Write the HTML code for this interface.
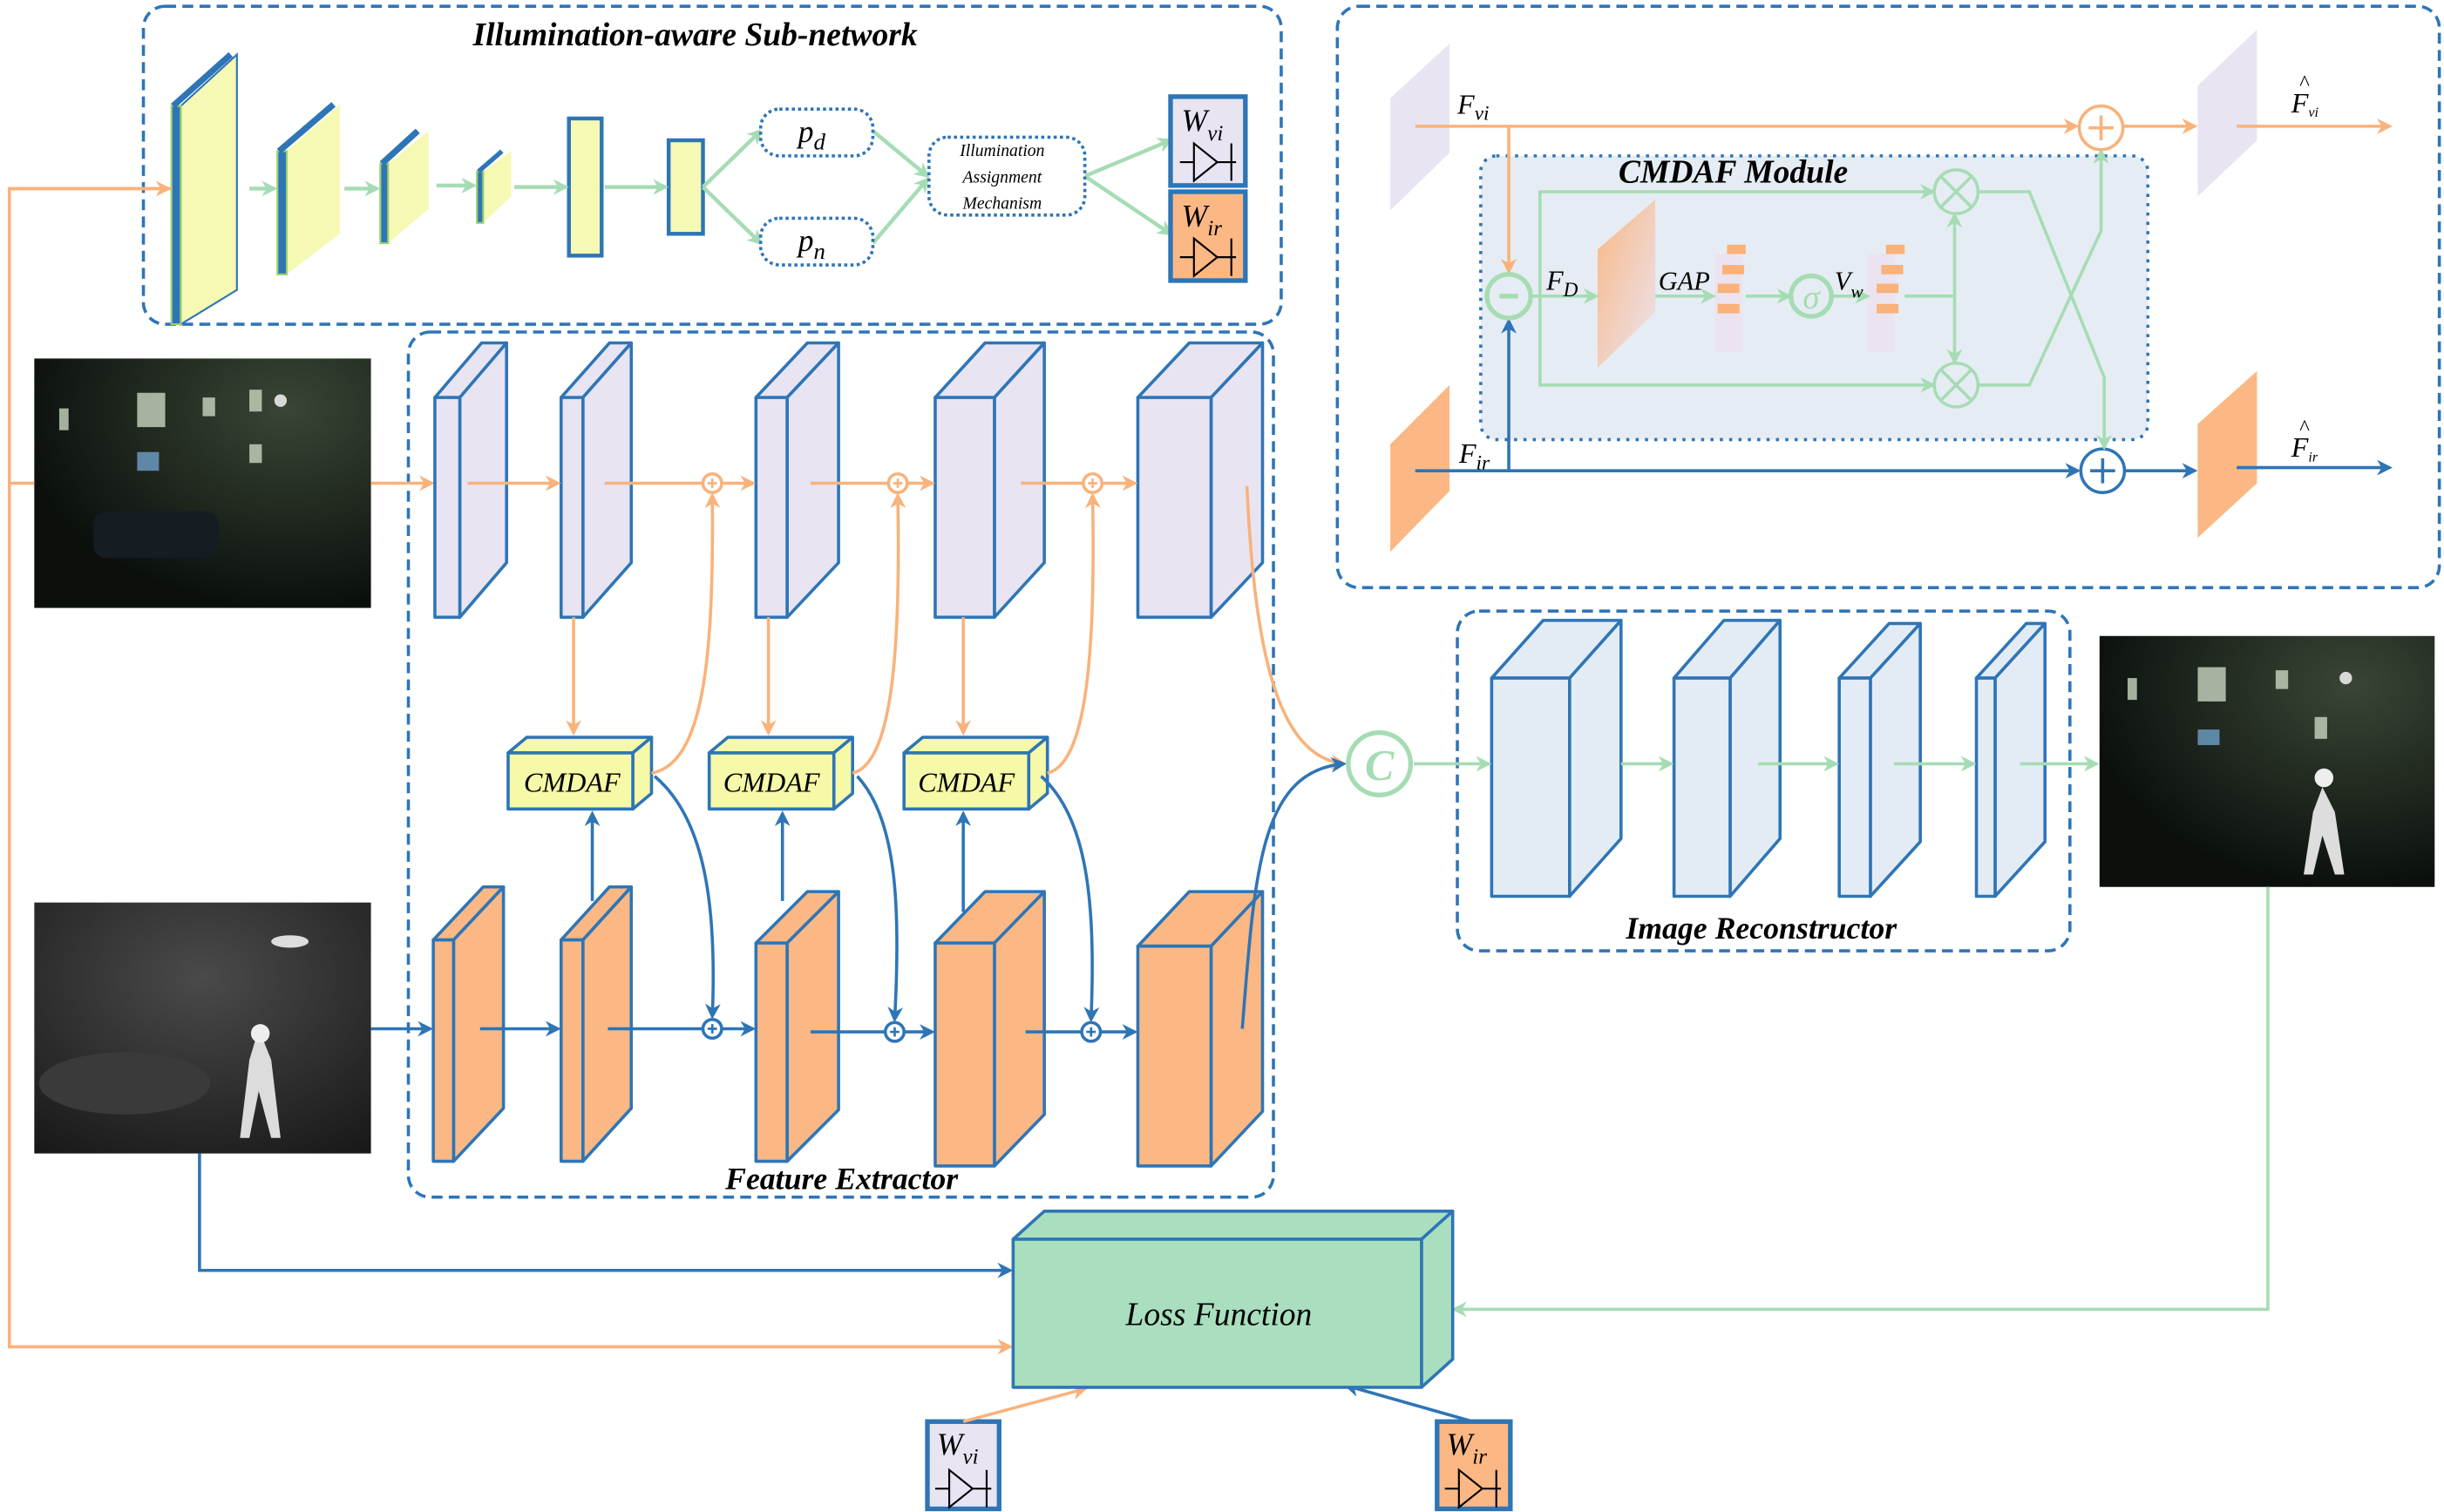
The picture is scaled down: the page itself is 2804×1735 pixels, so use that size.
<!DOCTYPE html>
<html><head><meta charset="utf-8"><style>html,body{margin:0;padding:0;background:#fff}svg{display:block}</style></head>
<body>
<svg width="2804" height="1735" viewBox="0 0 1568 970" preserveAspectRatio="none" xmlns="http://www.w3.org/2000/svg" font-family="Liberation Serif, serif">
<defs>
<marker id="ao" markerWidth="10" markerHeight="10" refX="8" refY="5" orient="auto" markerUnits="userSpaceOnUse"><path d="M0,0 L10,5 L0,10 L3,5z" fill="#f9b27a"/></marker>
<marker id="ab" markerWidth="10" markerHeight="10" refX="8" refY="5" orient="auto" markerUnits="userSpaceOnUse"><path d="M0,0 L10,5 L0,10 L3,5z" fill="#2e75b6"/></marker>
<marker id="ag" markerWidth="10" markerHeight="10" refX="8" refY="5" orient="auto" markerUnits="userSpaceOnUse"><path d="M0,0 L10,5 L0,10 L3,5z" fill="#a6dcb4"/></marker>
<linearGradient id="fd" x1="0" y1="0" x2="1" y2="1"><stop offset="0" stop-color="#f9b884"/><stop offset="1" stop-color="#ebe3f0"/></linearGradient>
<radialGradient id="ph1" cx="0.75" cy="0.2" r="0.8"><stop offset="0" stop-color="#3a4535"/><stop offset="1" stop-color="#0b100d"/></radialGradient>
<radialGradient id="ph2" cx="0.5" cy="0.3" r="0.9"><stop offset="0" stop-color="#4a4a4a"/><stop offset="1" stop-color="#151515"/></radialGradient>
</defs>
<g fill="none" stroke-width="2">
<!-- dashed containers -->
<rect x="92" y="4" width="730" height="204" rx="14" stroke="#2e75b6" stroke-dasharray="7,4"/>
<rect x="262" y="213" width="555" height="555" rx="14" stroke="#2e75b6" stroke-dasharray="7,4"/>
<rect x="935" y="392" width="393" height="218" rx="14" stroke="#2e75b6" stroke-dasharray="7,4"/>
<rect x="858" y="4" width="707" height="373" rx="14" stroke="#2e75b6" stroke-dasharray="7,4"/>
<rect x="950" y="100" width="428" height="182" rx="10" fill="#e6ecf3" stroke="#2e75b6" stroke-dasharray="2,4"/>
</g>

<!-- Illumination subnetwork -->
<g stroke-width="1.2">
<polygon points="116,68 152,35 152,186 116,208" fill="#f5f9b4" stroke="#2e75b6"/>
<rect x="110" y="68" width="6" height="140" fill="#2e75b6" stroke="#9ad06a"/>
<line x1="111" y1="68" x2="148" y2="35" stroke="#2e75b6" stroke-width="4"/>
<polygon points="184,97 218,67 218,150 184,176" fill="#f5f9b4" stroke="none"/>
<rect x="178" y="97" width="6" height="79" fill="#2e75b6" stroke="#9ad06a"/>
<line x1="179" y1="97" x2="214" y2="67" stroke="#2e75b6" stroke-width="4"/>
<polygon points="249,105 275,84 275,134 249,156" fill="#f5f9b4" stroke="none"/>
<rect x="244" y="105" width="5" height="51" fill="#2e75b6" stroke="#9ad06a"/>
<line x1="245" y1="105" x2="268" y2="84" stroke="#2e75b6" stroke-width="4"/>
<polygon points="310,110 328,97 328,126 310,143" fill="#f5f9b4" stroke="none"/>
<rect x="306" y="110" width="4" height="33" fill="#2e75b6" stroke="#9ad06a"/>
<line x1="307" y1="110" x2="322" y2="97" stroke="#2e75b6" stroke-width="3"/>
<rect x="365" y="76" width="21" height="88" fill="#f5f9b4" stroke="#2e75b6" stroke-width="2.5"/>
<rect x="429" y="90" width="22" height="60" fill="#f5f9b4" stroke="#2e75b6" stroke-width="2.5"/>
</g>
<g stroke="#a6dcb4" stroke-width="2.5" fill="none">
<line x1="160" y1="121" x2="176" y2="121" marker-end="url(#ag)"/>
<line x1="221" y1="121" x2="242" y2="121" marker-end="url(#ag)"/>
<line x1="280" y1="119" x2="304" y2="119" marker-end="url(#ag)"/>
<line x1="330" y1="120" x2="363" y2="120" marker-end="url(#ag)"/>
<line x1="388" y1="120" x2="427" y2="120" marker-end="url(#ag)"/>
<polyline points="451,120 488,84" marker-end="url(#ag)"/>
<polyline points="451,120 488,156" marker-end="url(#ag)"/>
<polyline points="560,84 595,113" marker-end="url(#ag)"/>
<polyline points="560,156 595,115" marker-end="url(#ag)"/>
<polyline points="696,113 751,90" marker-end="url(#ag)"/>
<polyline points="696,113 751,150" marker-end="url(#ag)"/>
</g>
<g fill="#fff" stroke="#2e75b6" stroke-width="2" stroke-dasharray="2,2">
<rect x="488" y="70" width="72" height="30" rx="12"/>
<rect x="488" y="140" width="72" height="30" rx="12"/>
<rect x="596" y="88" width="100" height="50" rx="12"/>
</g>
<g font-style="italic" fill="#000">
<text x="512" y="91" font-size="20">p<tspan font-size="15" dy="5">d</tspan></text>
<text x="512" y="161" font-size="20">p<tspan font-size="15" dy="5">n</tspan></text>
<text x="643" y="100" font-size="11" text-anchor="middle">Illumination</text>
<text x="643" y="117" font-size="11" text-anchor="middle">Assignment</text>
<text x="643" y="134" font-size="11" text-anchor="middle">Mechanism</text>
<text x="446" y="29" font-size="21" font-weight="bold" text-anchor="middle">Illumination-aware Sub-network</text>
</g>

<!-- W boxes -->
<g id="wvi">
<rect x="751" y="62" width="48" height="57" fill="#e8e4f2" stroke="#2e75b6" stroke-width="3"/>
<text x="758" y="84" font-size="20" font-style="italic">W<tspan font-size="14" dy="6">vi</tspan></text>
<path d="M757,104 L766,104 M766,92 L766,116 L781,104 Z M781,104 L793,104 M790,92 L790,116" stroke="#000" stroke-width="1.2" fill="none"/>
</g>
<rect x="751" y="123" width="48" height="57" fill="#fbb884" stroke="#2e75b6" stroke-width="3"/>
<text x="758" y="145" font-size="20" font-style="italic">W<tspan font-size="14" dy="6">ir</tspan></text>
<path d="M757,165 L766,165 M766,153 L766,177 L781,165 Z M781,165 L793,165 M790,153 L790,177" stroke="#000" stroke-width="1.2" fill="none"/>

<rect x="595" y="912" width="46" height="56" fill="#e8e4f2" stroke="#2e75b6" stroke-width="3"/>
<text x="601" y="933" font-size="20" font-style="italic">W<tspan font-size="14" dy="6">vi</tspan></text>
<path d="M600,955 L609,955 M609,943 L609,967 L624,955 Z M624,955 L636,955 M633,943 L633,967" stroke="#000" stroke-width="1.2" fill="none"/>
<rect x="922" y="912" width="47" height="56" fill="#fbb884" stroke="#2e75b6" stroke-width="3"/>
<text x="928" y="933" font-size="20" font-style="italic">W<tspan font-size="14" dy="6">ir</tspan></text>
<path d="M927,955 L936,955 M936,943 L936,967 L951,955 Z M951,955 L963,955 M960,943 L960,967" stroke="#000" stroke-width="1.2" fill="none"/>

<!-- Photos -->
<rect x="22" y="230" width="216" height="160" fill="url(#ph1)"/>
<g fill="#c9d6c0" opacity="0.8"><rect x="38" y="262" width="6" height="14"/><rect x="88" y="252" width="18" height="22"/><rect x="130" y="255" width="8" height="12"/><rect x="160" y="250" width="8" height="14"/><rect x="160" y="285" width="8" height="12"/><rect x="88" y="290" width="14" height="12" fill="#6fa0c8"/><circle cx="180" cy="257" r="4" fill="#fff"/></g>
<rect x="60" y="328" width="80" height="30" rx="8" fill="#151d22"/>
<rect x="22" y="579" width="216" height="161" fill="url(#ph2)"/>
<ellipse cx="80" cy="695" rx="55" ry="20" fill="#3a3a3a"/>
<path d="M166,660 l-6,20 l-6,50 l6,0 l6,-30 l8,30 l6,0 l-6,-50 z" fill="#dcdcdc"/><circle cx="167" cy="663" r="6" fill="#eee"/>
<ellipse cx="186" cy="604" rx="12" ry="4" fill="#ddd"/>
<rect x="1347" y="408" width="215" height="161" fill="url(#ph1)"/>
<g fill="#c9d6c0" opacity="0.8"><rect x="1365" y="435" width="6" height="14"/><rect x="1410" y="428" width="18" height="22"/><rect x="1460" y="430" width="8" height="12"/><rect x="1485" y="460" width="8" height="14"/><rect x="1410" y="468" width="14" height="10" fill="#6fa0c8"/><circle cx="1505" cy="435" r="4" fill="#fff"/></g>
<path d="M1490,505 l-6,16 l-6,40 l6,0 l6,-25 l8,25 l6,0 l-6,-40 z" fill="#ddd"/><circle cx="1491" cy="499" r="6" fill="#eee"/>

<!-- left connectors -->
<g fill="none" stroke-width="2">
<polyline points="110,121 6,121 6,864 648,864" stroke="#f9b27a" marker-end="url(#ao)"/>
<line x1="6" y1="121" x2="108" y2="121" stroke="#f9b27a" marker-end="url(#ao)"/>
<line x1="6" y1="310" x2="22" y2="310" stroke="#f9b27a"/>
<line x1="238" y1="310" x2="277" y2="310" stroke="#f9b27a" marker-end="url(#ao)"/>
<line x1="238" y1="660" x2="276" y2="660" stroke="#2e75b6" marker-end="url(#ab)"/>
<polyline points="128,740 128,815 648,815" stroke="#2e75b6" marker-end="url(#ab)"/>
<polyline points="1455,569 1455,840 933,840" stroke="#a6dcb4" marker-end="url(#ag)"/>
<line x1="618" y1="912" x2="696" y2="891" stroke="#f9b27a" marker-end="url(#ao)"/>
<line x1="945" y1="912" x2="864" y2="889" stroke="#2e75b6" marker-end="url(#ab)"/>
</g>

<!-- Feature extractor cuboids -->
<g stroke="#2e75b6" stroke-width="2" stroke-linejoin="round">
<!-- visible row -->
<g fill="#e8e4f2">
<polygon points="279,255 295,255 325,220 309,220"/><polygon points="295,255 325,220 325,361 295,396"/><rect x="279" y="255" width="16" height="141"/>
<polygon points="360,255 374,255 405,220 391,220"/><polygon points="374,255 405,220 405,361 374,396"/><rect x="360" y="255" width="14" height="141"/>
<polygon points="485,255 505,255 538,220 518,220"/><polygon points="505,255 538,220 538,361 505,396"/><rect x="485" y="255" width="20" height="141"/>
<polygon points="600,255 638,255 670,220 632,220"/><polygon points="638,255 670,220 670,361 638,396"/><rect x="600" y="255" width="38" height="141"/>
<polygon points="730,255 777,255 810,220 763,220"/><polygon points="777,255 810,220 810,361 777,396"/><rect x="730" y="255" width="47" height="141"/>
</g>
<g fill="#fbb884">
<polygon points="278,603 291,603 323,569 310,569"/><polygon points="291,603 323,569 323,711 291,745"/><rect x="278" y="603" width="13" height="142"/>
<polygon points="360,603 374,603 405,569 391,569"/><polygon points="374,603 405,569 405,711 374,745"/><rect x="360" y="603" width="14" height="142"/>
<polygon points="485,605 505,605 538,572 518,572"/><polygon points="505,605 538,572 538,712 505,745"/><rect x="485" y="605" width="20" height="140"/>
<polygon points="600,605 638,605 670,572 632,572"/><polygon points="638,605 670,572 670,715 638,748"/><rect x="600" y="605" width="38" height="143"/>
<polygon points="730,607 777,607 810,572 763,572"/><polygon points="777,607 810,572 810,713 777,748"/><rect x="730" y="607" width="47" height="141"/>
</g>
<g fill="#f5f9a8">
<polygon points="326,483 406,483 418,473 338,473"/><polygon points="406,483 418,473 418,509 406,519"/><rect x="326" y="483" width="80" height="36"/>
<polygon points="455,483 535,483 547,473 467,473"/><polygon points="535,483 547,473 547,509 535,519"/><rect x="455" y="483" width="80" height="36"/>
<polygon points="580,483 660,483 672,473 592,473"/><polygon points="660,483 672,473 672,509 660,519"/><rect x="580" y="483" width="80" height="36"/>
</g>
<!-- reconstructor -->
<g fill="#e3ecf5">
<polygon points="957,435 1007,435 1040,398 990,398"/><polygon points="1007,435 1040,398 1040,538 1007,575"/><rect x="957" y="435" width="50" height="140"/>
<polygon points="1074,435 1110,435 1142,398 1106,398"/><polygon points="1110,435 1142,398 1142,538 1110,575"/><rect x="1074" y="435" width="36" height="140"/>
<polygon points="1180,435 1200,435 1232,400 1212,400"/><polygon points="1200,435 1232,400 1232,540 1200,575"/><rect x="1180" y="435" width="20" height="140"/>
<polygon points="1268,435 1280,435 1312,400 1300,400"/><polygon points="1280,435 1312,400 1312,540 1280,575"/><rect x="1268" y="435" width="12" height="140"/>
</g>
<!-- loss -->
<g fill="#a9dfbf">
<polygon points="650,795 912,795 932,777 670,777"/><polygon points="912,795 932,777 932,872 912,890"/><rect x="650" y="795" width="262" height="95"/>
</g>
</g>
<g font-style="italic" fill="#000">
<text x="367" y="508" font-size="18" text-anchor="middle">CMDAF</text>
<text x="495" y="508" font-size="18" text-anchor="middle">CMDAF</text>
<text x="620" y="508" font-size="18" text-anchor="middle">CMDAF</text>
<text x="540" y="763" font-size="20" font-weight="bold" text-anchor="middle">Feature Extractor</text>
<text x="1130" y="602" font-size="20" font-weight="bold" text-anchor="middle">Image Reconstructor</text>
<text x="782" y="850" font-size="21" text-anchor="middle">Loss Function</text>
</g>

<!-- feature extractor connectors -->
<g fill="none" stroke-width="2">
<g stroke="#f9b27a">
<line x1="300" y1="310" x2="358" y2="310" marker-end="url(#ao)"/>
<line x1="388" y1="310" x2="451" y2="310"/><line x1="463" y1="310" x2="483" y2="310" marker-end="url(#ao)"/>
<line x1="520" y1="310" x2="570" y2="310"/><line x1="582" y1="310" x2="598" y2="310" marker-end="url(#ao)"/>
<line x1="655" y1="310" x2="695" y2="310"/><line x1="707" y1="310" x2="728" y2="310" marker-end="url(#ao)"/>
<circle cx="457" cy="310" r="6"/><circle cx="576" cy="310" r="6"/><circle cx="701" cy="310" r="6"/>
<path d="M454,310h6M457,307v6M573,310h6M576,307v6M698,310h6M701,307v6" stroke-width="1.5"/>
<line x1="368" y1="396" x2="368" y2="470" marker-end="url(#ao)"/>
<line x1="493" y1="396" x2="493" y2="470" marker-end="url(#ao)"/>
<line x1="618" y1="396" x2="618" y2="470" marker-end="url(#ao)"/>
<path d="M418,496 C452,490 458,420 457,318" marker-end="url(#ao)"/>
<path d="M547,496 C572,490 578,420 576,318" marker-end="url(#ao)"/>
<path d="M672,496 C697,490 703,420 701,318" marker-end="url(#ao)"/>
<path d="M800,312 C805,420 820,485 862,490" marker-end="url(#ao)"/>
</g>
<g stroke="#2e75b6">
<line x1="308" y1="660" x2="358" y2="660" marker-end="url(#ab)"/>
<line x1="390" y1="660" x2="451" y2="660"/><line x1="463" y1="660" x2="483" y2="660" marker-end="url(#ab)"/>
<line x1="520" y1="662" x2="568" y2="662"/><line x1="580" y1="662" x2="598" y2="662" marker-end="url(#ab)"/>
<line x1="658" y1="662" x2="694" y2="662"/><line x1="706" y1="662" x2="728" y2="662" marker-end="url(#ab)"/>
<circle cx="457" cy="660" r="6"/><circle cx="574" cy="662" r="6"/><circle cx="700" cy="662" r="6"/>
<path d="M454,660h6M457,657v6M571,662h6M574,659v6M697,662h6M700,659v6" stroke-width="1.5"/>
<line x1="380" y1="578" x2="380" y2="522" marker-end="url(#ab)"/>
<line x1="502" y1="578" x2="502" y2="522" marker-end="url(#ab)"/>
<line x1="618" y1="585" x2="618" y2="522" marker-end="url(#ab)"/>
<path d="M420,498 C452,525 460,580 457,652" marker-end="url(#ab)"/>
<path d="M550,498 C575,525 578,580 574,654" marker-end="url(#ab)"/>
<path d="M668,498 C698,525 703,580 700,654" marker-end="url(#ab)"/>
<path d="M797,660 C805,560 808,495 862,490" marker-end="url(#ab)"/>
</g>
<g stroke="#a6dcb4">
<circle cx="885" cy="490" r="20" stroke-width="3"/>
<line x1="907" y1="490" x2="955" y2="490" marker-end="url(#ag)"/>
<line x1="1040" y1="490" x2="1072" y2="490" marker-end="url(#ag)"/>
<line x1="1128" y1="490" x2="1178" y2="490" marker-end="url(#ag)"/>
<line x1="1215" y1="490" x2="1266" y2="490" marker-end="url(#ag)"/>
<line x1="1296" y1="490" x2="1345" y2="490" marker-end="url(#ag)"/>
</g>
</g>
<text x="885" y="500" font-size="28" font-style="italic" font-weight="bold" text-anchor="middle" fill="#a6dcb4">C</text>

<!-- CMDAF panel -->
<polygon points="892,63 930,28 930,98 892,135" fill="#e8e4f2"/>
<polygon points="1410,55 1448,19 1448,90 1410,126" fill="#e8e4f2"/>
<polygon points="892,285 930,247 930,315 892,354" fill="#fbb884"/>
<polygon points="1410,272 1448,238 1448,310 1410,345" fill="#fbb884"/>
<polygon points="1025,160 1062,128 1062,200 1025,236" fill="url(#fd)"/>
<g fill="#ebe3f0"><rect x="1100" y="163" width="18" height="63"/><rect x="1198" y="163" width="18" height="63"/></g>
<g fill="#f9b27a"><rect x="1108" y="157" width="12" height="6"/><rect x="1105" y="170" width="14" height="6"/><rect x="1102" y="182" width="14" height="6"/><rect x="1102" y="195" width="14" height="6"/>
<rect x="1210" y="157" width="12" height="6"/><rect x="1207" y="170" width="14" height="6"/><rect x="1204" y="182" width="14" height="6"/><rect x="1204" y="195" width="14" height="6"/></g>
<g fill="none" stroke-width="2">
<line x1="908" y1="81" x2="1332" y2="81" stroke="#f9b27a" marker-end="url(#ao)"/>
<line x1="1362" y1="81" x2="1408" y2="81" stroke="#f9b27a" marker-end="url(#ao)"/>
<line x1="1435" y1="81" x2="1533" y2="81" stroke="#f9b27a" marker-end="url(#ao)"/>
<circle cx="1348" cy="82" r="14" stroke="#f9b27a"/><path d="M1340,82h16M1348,74v16" stroke="#f9b27a"/>
<line x1="968" y1="81" x2="968" y2="174" stroke="#f9b27a" marker-end="url(#ao)"/>
<line x1="908" y1="302" x2="1333" y2="302" stroke="#2e75b6" marker-end="url(#ab)"/>
<line x1="1363" y1="302" x2="1408" y2="302" stroke="#2e75b6" marker-end="url(#ab)"/>
<line x1="1435" y1="300" x2="1533" y2="300" stroke="#2e75b6" marker-end="url(#ab)"/>
<circle cx="1349" cy="302" r="14" stroke="#2e75b6"/><path d="M1341,302h16M1349,294v16" stroke="#2e75b6"/>
<line x1="968" y1="302" x2="968" y2="206" stroke="#2e75b6" marker-end="url(#ab)"/>
<g stroke="#a6dcb4">
<circle cx="968" cy="190" r="14" stroke-width="3"/><path d="M962,190h12" stroke-width="3"/>
<line x1="982" y1="190" x2="1024" y2="190" marker-end="url(#ag)"/>
<line x1="1062" y1="190" x2="1099" y2="190" marker-end="url(#ag)"/>
<line x1="1120" y1="190" x2="1148" y2="190" marker-end="url(#ag)"/>
<circle cx="1162" cy="190" r="13" stroke-width="3"/>
<line x1="1176" y1="190" x2="1198" y2="190" marker-end="url(#ag)"/>
<line x1="1222" y1="190" x2="1254" y2="190"/>
<line x1="1254" y1="190" x2="1254" y2="138" marker-end="url(#ag)"/>
<line x1="1254" y1="190" x2="1254" y2="232" marker-end="url(#ag)"/>
<polyline points="988,190 988,123 1240,123" marker-end="url(#ag)"/>
<polyline points="988,190 988,247 1240,247" marker-end="url(#ag)"/>
<circle cx="1255" cy="123" r="14"/><path d="M1245,113l20,20M1265,113l-20,20"/>
<circle cx="1255" cy="247" r="14"/><path d="M1245,237l20,20M1265,237l-20,20"/>
<polyline points="1269,123 1302,123 1350,242 1350,287" marker-end="url(#ag)"/>
<polyline points="1269,247 1302,247 1348,148 1348,97" marker-end="url(#ag)"/>
</g>
</g>
<text x="1162" y="198" font-size="22" font-style="italic" fill="#a6dcb4" text-anchor="middle">σ</text>
<g font-style="italic" fill="#000">
<text x="935" y="73" font-size="18">F<tspan font-size="13" dy="4">vi</tspan></text>
<text x="936" y="297" font-size="18">F<tspan font-size="13" dy="4">ir</tspan></text>
<text x="992" y="186" font-size="18">F<tspan font-size="13" dy="4">D</tspan></text>
<text x="1064" y="186" font-size="17">GAP</text>
<text x="1177" y="186" font-size="17">V<tspan font-size="12" dy="5">w</tspan></text>
<text x="1470" y="72" font-size="18">F<tspan font-size="9" dy="3">vi</tspan></text>
<text x="1475" y="58" font-size="14">^</text>
<text x="1470" y="293" font-size="18">F<tspan font-size="9" dy="3">ir</tspan></text>
<text x="1475" y="279" font-size="14">^</text>
<text x="1112" y="117" font-size="21" font-weight="bold" text-anchor="middle">CMDAF Module</text>
</g>
</svg>
</body></html>
